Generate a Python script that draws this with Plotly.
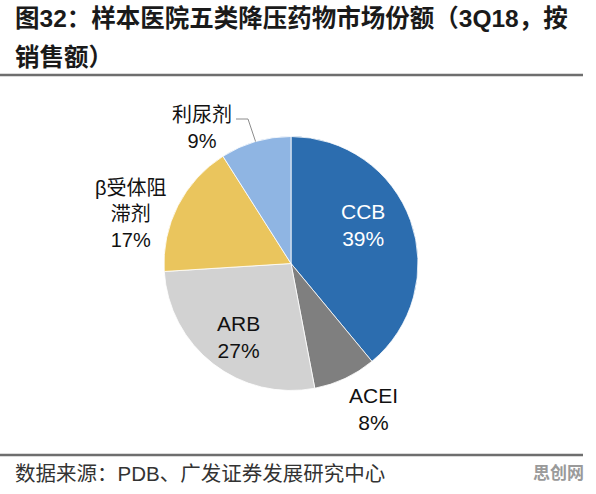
import math
import plotly.graph_objects as go

# ---- data ----
categories = ["CCB", "ACEI", "ARB", "β受体阻滞剂", "利尿剂"]
shares = [39, 8, 27, 17, 9]
label_texts = ["CCB<br>39%", "ACEI<br>8%", "ARB<br>27%", "β受体阻<br>滞剂<br>17%", "利尿剂<br>9%"]
colors = ["#2C6DAF", "#7F7F7F", "#D2D2D2", "#EAC55D", "#8FB5E3"]

title_line1 = "图32：样本医院五类降压药物市场份额（3Q18，按"
title_line2 = "销售额）"
source_text = "数据来源：PDB、广发证券发展研究中心"
watermark = "思创网"

W, H = 596, 494
FONT = "Liberation Sans, Arial, Noto Sans CJK SC, sans-serif"

# pie placement (pixels)
cx, cy, r = 291, 263.5, 127
def px(x):
    return x / W
def py(y):
    return 1 - y / H

fig = go.Figure()
fig.add_trace(go.Pie(
    labels=categories,
    values=shares,
    sort=False,
    direction="clockwise",
    rotation=0,
    marker=dict(colors=colors, line=dict(color="white", width=0.8)),
    textinfo="none",
    hoverinfo="label+percent",
    showlegend=False,
    domain=dict(x=[px(cx - r), px(cx + r)], y=[py(cy + r), py(cy - r)]),
))

# label placement (pixel centres), colours and sizes
label_pos = [(363, 225), (373, 409), (238, 337), (131, 214), (202, 128)]
label_col = ["white", "#111111", "#111111", "#111111", "#111111"]
label_size = [21, 21, 21, 20, 20]
annotations = []
for txt, (x, y), c, s in zip(label_texts, label_pos, label_col, label_size):
    annotations.append(dict(
        x=px(x), y=py(y), xref="paper", yref="paper", text=txt,
        showarrow=False, xanchor="center", yanchor="middle", align="center",
        font=dict(family=FONT, size=s, color=c),
    ))

# leader line for the last slice (利尿剂), end point from the slice mid-angle
total = sum(shares)
cum = sum(shares[:-1])
mid = (cum + shares[-1] / 2) / total * 2 * math.pi
ex, ey = cx + r * math.sin(mid), cy - r * math.cos(mid)
shapes = [
    dict(type="path", xref="paper", yref="paper",
         path=f"M {px(236)} {py(119)} L {px(248)} {py(119)} L {px(ex)} {py(ey)}",
         line=dict(color="#8C8C8C", width=1)),
    dict(type="line", xref="paper", yref="paper", x0=0, x1=px(583), y0=py(75), y1=py(75),
         line=dict(color="#6E6E6E", width=2.5)),
    dict(type="line", xref="paper", yref="paper", x0=0, x1=px(583), y0=py(455), y1=py(455),
         line=dict(color="#6E6E6E", width=2.5)),
]

TITLE_FONT = "Liberation Sans, Arial, Noto Sans CJK SC, sans-serif"
annotations += [
    dict(x=px(13), y=py(19), xref="paper", yref="paper", text=f"<b>{title_line1}</b>",
         showarrow=False, xanchor="left", yanchor="middle",
         font=dict(family=TITLE_FONT, size=24.5, color="#1A1A1A")),
    dict(x=px(13), y=py(57), xref="paper", yref="paper", text=f"<b>{title_line2}</b>",
         showarrow=False, xanchor="left", yanchor="middle",
         font=dict(family=TITLE_FONT, size=24.5, color="#1A1A1A")),
    dict(x=px(13), y=py(473), xref="paper", yref="paper", text=source_text,
         showarrow=False, xanchor="left", yanchor="middle",
         font=dict(family=FONT, size=20.5, color="#333333")),
    dict(x=px(586), y=py(473), xref="paper", yref="paper", text=f"<b>{watermark}</b>",
         showarrow=False, xanchor="right", yanchor="middle",
         font=dict(family=FONT, size=17, color="#9A9A9A")),
]

fig.update_layout(
    width=W, height=H,
    margin=dict(l=0, r=0, t=0, b=0),
    paper_bgcolor="white", plot_bgcolor="white",
    annotations=annotations, shapes=shapes,
)

fig.write_html("out.html", config=dict(displayModeBar=False))
